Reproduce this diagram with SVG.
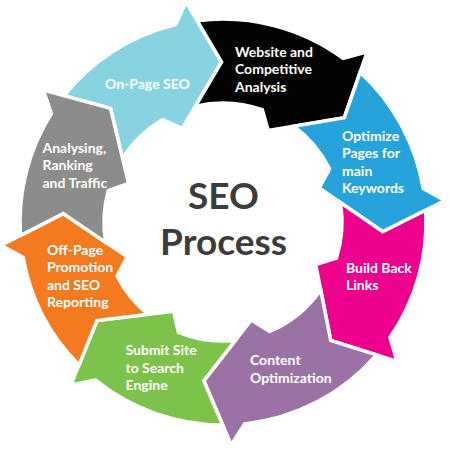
<svg xmlns="http://www.w3.org/2000/svg" width="450" height="450" viewBox="0 0 450 450">
<style>
.seg{stroke:#ffffff;stroke-width:3.5;stroke-linejoin:miter}
.lbl{font-family:Lato,"Open Sans","Liberation Sans",sans-serif;font-weight:700;font-size:14px;fill:#ffffff}
.title{font-family:Lato,"Open Sans","Liberation Sans",sans-serif;font-weight:700;font-size:37px;fill:#3c3c3c;text-anchor:middle}
</style>
<rect width="450" height="450" fill="#ffffff"/>
<g id="connectors"></g>
<g id="onpage">
<path class="seg" fill="#87d3e1" d="M 64.1 95.6 A 203 203 0 0 1 175.6 24.6 L 186.2 2.1 L 221.6 62 L 182.3 128.5 L 162.6 119.5 A 119 119 0 0 0 122.6 158.2 L 110.5 108.3 Z"/>
<text class="lbl" x="105" y="89">On-Page SEO</text>
</g>
<g id="website">
<path class="seg" fill="#030303" d="M 197.2 20.7 A 203 203 0 0 1 343.2 58.4 L 367.2 51.9 L 344.3 117.7 L 268.2 130.6 L 262.3 109.7 A 119 119 0 0 0 195.5 106.2 L 221.6 62 Z"/>
<text class="lbl" x="235" y="56.5">Website and</text>
<text class="lbl" x="235" y="74">Competitive</text>
<text class="lbl" x="235" y="91.5">Analysis</text>
</g>
<g id="optimize">
<path class="seg" fill="#27a3dc" d="M 360.1 72.3 A 203 203 0 0 1 423.2 188.5 L 445 200.6 L 382.7 231.8 L 319.2 188 L 329.5 168.9 A 119 119 0 0 0 293.7 126.2 L 344.3 117.7 Z"/>
<text class="lbl" x="342" y="140.5">Optimize</text>
<text class="lbl" x="342" y="158">Pages for</text>
<text class="lbl" x="342" y="175.5">main</text>
<text class="lbl" x="342" y="193">Keywords</text>
</g>
<g id="backlinks">
<path class="seg" fill="#ec008c" d="M 425.7 210.3 A 203 203 0 0 1 389.9 337.6 L 397 361.4 L 330.7 340.3 L 315.7 264.6 L 336.4 258.2 A 119 119 0 0 0 340.4 202.6 L 382.7 231.8 Z"/>
<text class="lbl" x="346" y="272.5">Build Back</text>
<text class="lbl" x="346" y="290">Links</text>
</g>
<g id="content">
<path class="seg" fill="#9a72a6" d="M 376.5 354.8 A 203 203 0 0 1 244.6 423.9 L 231.2 444.9 L 203.8 380.8 L 251.3 320 L 269.7 331.5 A 119 119 0 0 0 320.7 290 L 330.7 340.3 Z"/>
<text class="lbl" x="250" y="365">Content</text>
<text class="lbl" x="250" y="382.5">Optimization</text>
</g>
<g id="submit">
<path class="seg" fill="#7dc24b" d="M 222.7 425 A 203 203 0 0 1 95.3 379.8 L 70.9 385.1 L 96.9 320.5 L 173.6 311.2 L 178.4 332.3 A 119 119 0 0 0 235.4 340.4 L 203.8 380.8 Z"/>
<text class="lbl" x="125.5" y="355">Submit Site</text>
<text class="lbl" x="125.5" y="372.5">to Search</text>
<text class="lbl" x="125.5" y="389.5">Engine</text>
</g>
<g id="offpage">
<path class="seg" fill="#f47a20" d="M 79 365.1 A 203 203 0 0 1 23.1 257.3 L 1.2 245.3 L 63.2 213.6 L 127.2 256.9 L 117 276 A 119 119 0 0 0 147.9 314.3 L 96.9 320.5 Z"/>
<text class="lbl" x="47" y="254.5">Off-Page</text>
<text class="lbl" x="47" y="272">Promotion</text>
<text class="lbl" x="47" y="289.5">and SEO</text>
<text class="lbl" x="47" y="307">Reporting</text>
</g>
<g id="analysing">
<path class="seg" fill="#8c8c8c" d="M 20.5 235.5 A 203 203 0 0 1 51.4 113.5 L 43.3 90 L 110.5 108.3 L 128.6 183.3 L 108.2 190.6 A 119 119 0 0 0 105.8 242.4 L 63.2 213.6 Z"/>
<text class="lbl" x="42.5" y="152.5">Analysing,</text>
<text class="lbl" x="42.5" y="170">Ranking</text>
<text class="lbl" x="42.5" y="187.5">and Traffic</text>
</g>
<g id="center">
<text class="title" x="223.5" y="208.5">SEO</text>
<text class="title" x="223.5" y="255">Process</text>
</g>
</svg>
